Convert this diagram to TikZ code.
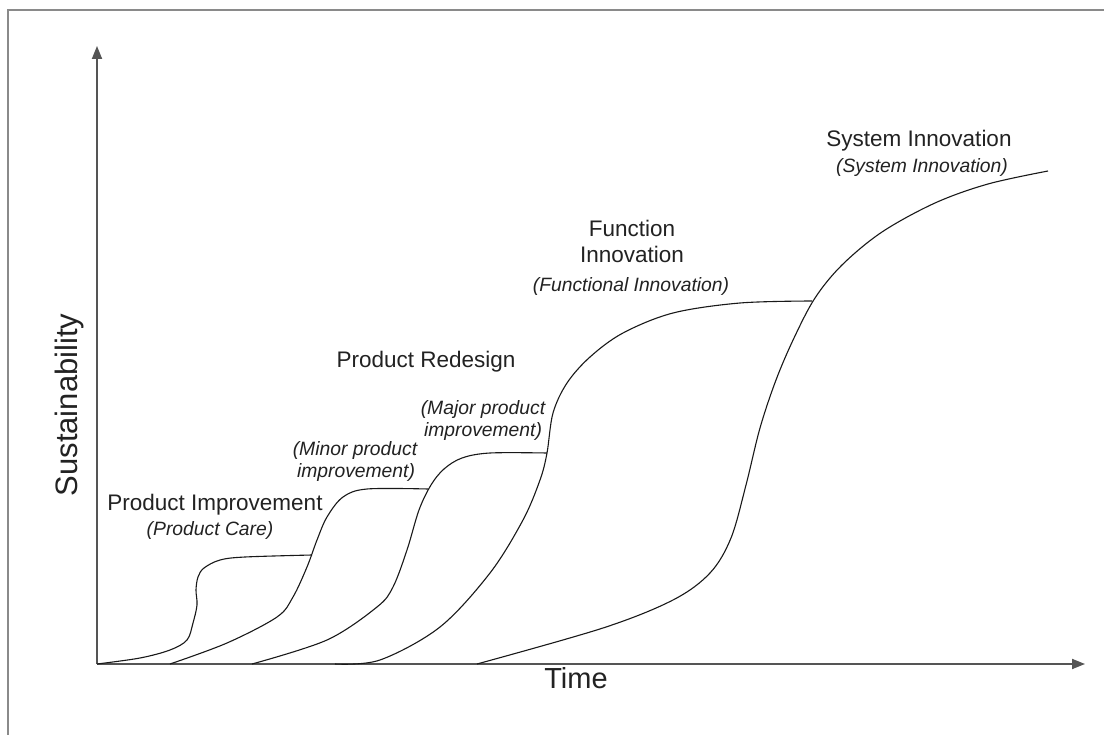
\documentclass[tikz,border=0pt]{standalone}
\usepackage{fontspec}
\setmainfont{Liberation Sans}
\usetikzlibrary{arrows.meta}
\definecolor{txt}{HTML}{222222}
\definecolor{axisc}{HTML}{555555}
\definecolor{framec}{HTML}{8A8A8A}
\begin{document}
\begin{tikzpicture}[x=1pt,y=-1pt,
  lab/.style={text=txt,font=\fontsize{22.5}{26}\selectfont,inner sep=0pt,anchor=base,align=center},
  sub/.style={text=txt,font=\fontsize{19.3}{22.5}\selectfont\itshape,inner sep=0pt,anchor=base,align=center},
  axlab/.style={text=txt,inner sep=0pt},
  axisline/.style={draw=axisc,line width=1.8pt,-{Triangle[length=13pt,width=10pt]}},
  scurve/.style={draw=black!90,line width=1.1pt,smooth,tension=0.55}]
\useasboundingbox (0,0) rectangle (1104,735);
\fill[white] (0,0) rectangle (1104,735);
% frame
\draw[framec,line width=1.8pt] (8,735) -- (8,10) -- (1104,10);
% axes
\coordinate (O) at (97,664);
\coordinate (ytop) at (97,46);
\coordinate (xend) at (1085,664);
\draw[axisline] (O) -- (ytop);
\draw[axisline] (O) -- (xend);
\node[axlab,font=\fontsize{29}{32}\selectfont,anchor=base] (time) at (576,688) {Time};
\node[axlab,font=\fontsize{31}{34}\selectfont,rotate=90] (sust) at (69,405) {Sustainability};
% curves
\draw[scurve] plot coordinates {(97,664) (140,658) (170,650) (187,640) (193,623) (197,605) (196,590) (198,577) (204,568) (220,560) (245,557) (312,555)};
\draw[scurve] plot coordinates {(170,664) (227,643) (277,617) (293,597) (307,567) (317,540) (327,517) (343,497) (367,489) (428,489)};
\draw[scurve] plot coordinates {(252,664) (327,640) (377,607) (393,587) (407,550) (419,510) (431,485) (444,469) (462,458) (490,453) (547,453)};
\draw[scurve] plot coordinates {(335,664) (380,660) (440,627) (490,573) (523,520) (540,480) (547,453) (553,413) (567,383) (590,357) (623,333) (673,313) (740,303) (812,301)};
\draw[scurve] plot coordinates {(477,664) (603,628) (673,600) (710,573) (731,538) (746,485) (760,428) (776,380) (794,338) (815,298) (842,265) (882,232) (935,203) (988,184) (1048,171)};
% labels
\node[lab] (pi) at (215,510) {Product Improvement};
\node[sub] (pc) at (210,535) {(Product Care)};
\node[sub] (minor1) at (355,455) {(Minor product};
\node[sub] (minor2) at (356,477) {improvement)};
\node[lab] (pr) at (426,368) {Product Redesign};
\node[sub] (major1) at (483,415) {(Major product};
\node[sub] (major2) at (483,437) {improvement)};
\node[lab] (fi1) at (632,237) {Function};
\node[lab] (fi2) at (632,263) {Innovation};
\node[sub] (fi3) at (631,292) {(Functional Innovation)};
\node[lab] (si1) at (919,147) {System Innovation};
\node[sub] (si2) at (922,173) {(System Innovation)};
\end{tikzpicture}
\end{document}
